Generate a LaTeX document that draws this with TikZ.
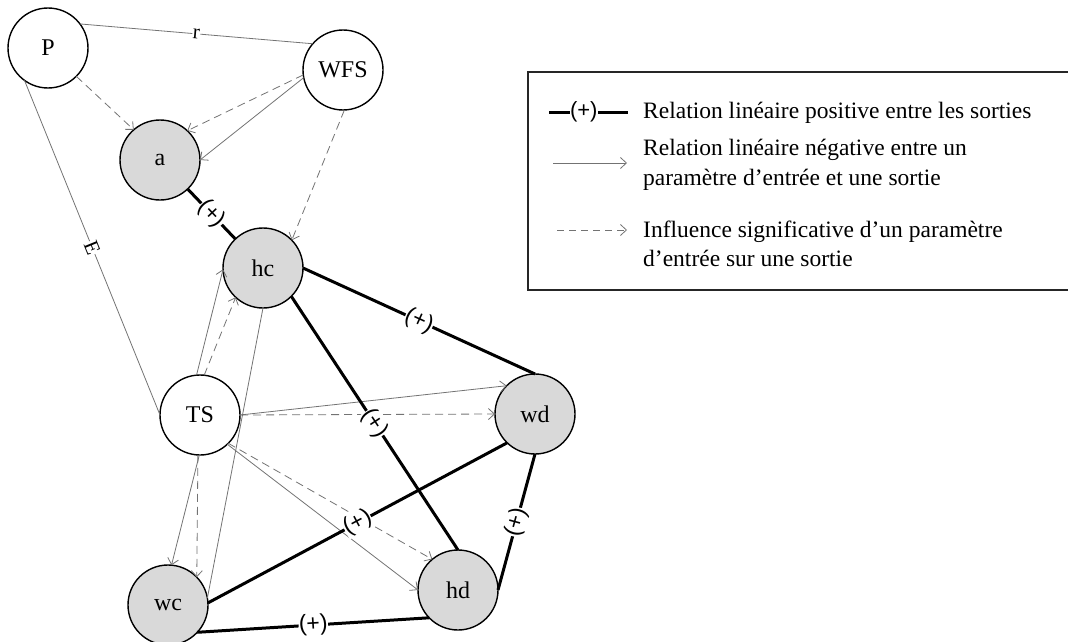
\documentclass[tikz,border=0pt]{standalone}
\usepackage{fontspec}
\setmainfont{Liberation Serif}
\newfontfamily\plusfont{Liberation Sans}
\usetikzlibrary{arrows.meta}
\begin{document}
\begin{tikzpicture}[x=1pt,y=-1pt,
  var/.style={circle, draw=black, line width=1.4pt, minimum size=80pt, inner sep=0pt, outer sep=0pt, font=\fontsize{24}{28}\selectfont},
  inp/.style={var, fill=white},
  outp/.style={var, fill=black!15},
  thinln/.style={draw=black!55, line width=0.8pt},
  neg/.style={thinln, -{Straight Barb[length=6pt,width=11pt]}},
  infl/.style={neg, dash pattern=on 8pt off 5pt},
  rel/.style={line width=3pt, draw=black},
  plus/.style={fill=white, inner sep=0.3pt, sloped, font=\plusfont\fontsize{23}{23}\selectfont},
  lab/.style={fill=white, inner sep=0.5pt, sloped, font=\fontsize{21}{21}\selectfont},
  legtext/.style={inner sep=0pt, anchor=west, align=left, font=\fontsize{23.5}{29.5}\selectfont}
]
\useasboundingbox (0,0) rectangle (1068,642);
% nodes
\node[inp] (P) at (48,48) {P};
\node[inp] (WFS) at (343,70) {WFS};
\node[outp] (a) at (160,160) {a};
\node[outp] (hc) at (263,268) {hc};
\node[inp] (TS) at (200,415) {TS};
\node[outp] (wd) at (535,414) {wd};
\node[outp] (wc) at (168,605) {wc};
\node[outp] (hd) at (458,590) {hd};
% thin relations
\draw[thinln] (P.37) -- node[lab]{r} (WFS.139);
\draw[thinln] (P.234) -- node[lab]{E} (TS.west);
\draw[thinln] (hc.south) -- (wc.10);
% influences and negative relations
\draw[infl] (P.-45) -- (a.131);
\draw[infl] (WFS.187) -- (a.47);
\draw[neg] (WFS.191) -- (a.east);
\draw[infl] (WFS.-88) -- (hc.44);
\draw[neg] (TS.95) -- (hc.182);
\draw[infl] (TS.84) -- (hc.227);
\draw[neg] (TS.east) -- (wd.135);
\draw[infl] (TS.east) -- (wd.west);
\draw[neg] (TS.-91) -- (wc.85);
\draw[infl] (TS.-93) -- (wc.44);
\draw[infl] (TS.-45) -- (hd.130);
\draw[neg] (TS.-47) -- (hd.west);
% positive relations
\draw[rel] (a) -- node[plus]{(+)} (hc);
\draw[rel] (hc.east) -- node[plus]{(+)} (wd.north);
\draw[rel] (hc.-45) -- node[plus]{(+)} (hd.north);
\draw[rel] (wd.226) -- node[plus]{(+)} (wc.3);
\draw[rel] (wd.south) -- node[plus]{(+)} (hd.east);
\draw[rel] (wc.-43) -- node[plus]{(+)} (hd.224);
% legend
\coordinate (bx1) at (1068,72);
\coordinate (bx2) at (528,72);
\coordinate (bx3) at (528,290);
\coordinate (bx4) at (1068,290);
\draw[line width=1.4pt, black!85] (bx1) -- (bx2) -- (bx3) -- (bx4);
\coordinate (l1a) at (549,112);
\coordinate (l1b) at (628,112);
\draw[rel] (l1a) -- node[pos=0.44, fill=white, inner sep=0.5pt, font=\plusfont\fontsize{22}{22}\selectfont]{(+)} (l1b);
\coordinate (l2a) at (553,163);
\coordinate (l2b) at (627,163);
\draw[neg] (l2a) -- (l2b);
\coordinate (l3a) at (557,230);
\coordinate (l3b) at (627,230);
\draw[infl, dash pattern=on 7pt off 5pt] (l3a) -- (l3b);
\node[legtext] (t1) at (643,113) {Relation linéaire positive entre les sorties};
\node[legtext] (t2) at (643,165) {Relation linéaire négative entre un\\paramètre d’entrée et une sortie};
\node[legtext] (t3) at (643,244) {Influence significative d’un paramètre\\d’entrée sur une sortie};
\end{tikzpicture}
\end{document}
